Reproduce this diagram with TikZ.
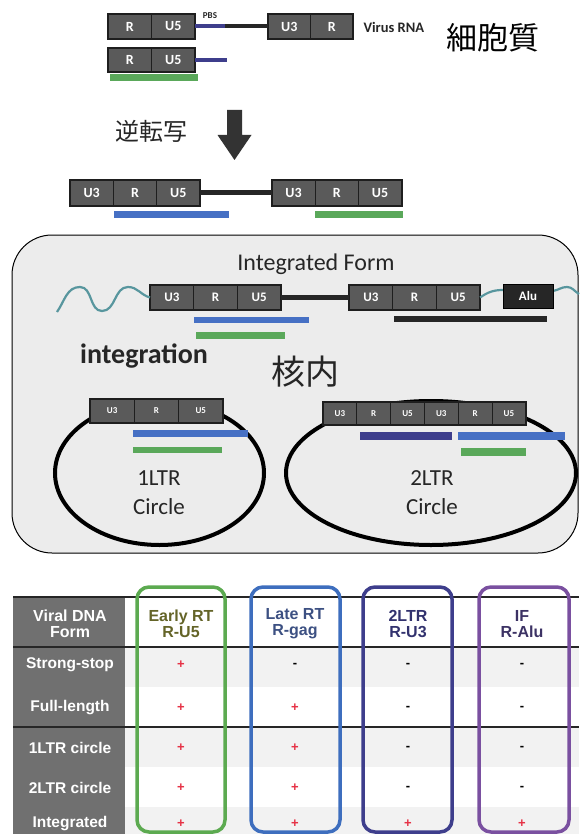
\documentclass[tikz,border=0pt]{standalone}
\usepackage{fontspec}
\setmainfont{Carlito}
\newfontfamily\jp{Noto Sans CJK JP}
\newfontfamily\tabfont{Liberation Sans}
\definecolor{cellgray}{RGB}{90,90,90}
\definecolor{cellline}{RGB}{30,30,30}
\definecolor{gbar}{RGB}{90,168,90}
\definecolor{bbar}{RGB}{70,112,196}
\definecolor{pbar}{RGB}{62,62,140}
\definecolor{kbar}{RGB}{38,38,38}
\definecolor{wavec}{RGB}{88,150,158}
\definecolor{boxfill}{RGB}{236,236,236}
\definecolor{tgreen}{RGB}{92,170,80}
\definecolor{tblue}{RGB}{62,110,190}
\definecolor{tnavy}{RGB}{62,62,140}
\definecolor{tpurple}{RGB}{122,80,160}
\definecolor{hgreen}{RGB}{100,100,40}
\definecolor{hblue}{RGB}{60,80,130}
\definecolor{hnavy}{RGB}{50,50,110}
\definecolor{hpurple}{RGB}{60,50,100}
\definecolor{colgray}{RGB}{112,112,112}
\definecolor{rowgray}{RGB}{242,242,242}
\definecolor{plusred}{RGB}{230,50,70}
\tikzset{
  cellbox/.style={draw=cellline, line width=0.8pt, fill=cellgray, text=white, inner sep=0pt, outer sep=0pt, anchor=north west},
  blockedge/.style={draw=cellline, line width=1.8pt},
  pv/.style={text=plusred, font=\tabfont\bfseries\fontsize{13}{13}\selectfont},
  mv/.style={text=black, font=\tabfont\bfseries\fontsize{13}{13}\selectfont},
  rowlab/.style={text=white, font=\tabfont\bfseries\fontsize{15.5}{15.5}\selectfont},
  headlab/.style={font=\tabfont\bfseries\fontsize{16}{16}\selectfont, align=center},
  colbox/.style={line width=3.5pt, rounded corners=12pt},
}
% name, x, ytop, cell width, height, font size, last index, labels
\newcommand{\mkblock}[8]{%
  \foreach \lab [count=\i from 0] in {#8} {
    \node[cellbox, minimum width=#4pt, minimum height=#5pt,
      font=\bfseries\fontsize{#6}{#6}\selectfont] (#1-\i) at ({#2+\i*#4},#3) {\lab};
  }
  \draw[blockedge] (#1-0.north west) rectangle (#1-#7.south east);
}
\newcommand\tplus[3]{\node[pv] (#1) at (#2,#3) {+};}
\newcommand\tminus[3]{\node[mv] (#1) at (#2,#3) {-};}
\begin{document}
\begin{tikzpicture}[x=1pt,y=-1pt]
\useasboundingbox (0,0) rectangle (579,834);
\fill[white] (0,0) rectangle (579,834);

% ---------- cytoplasm ----------
\coordinate (pbsmid) at (225,26.5);
\coordinate (ssend) at (227,60);
\mkblock{ra}{108}{14}{43.5}{25}{14}{1}{R,U5}
\mkblock{rb}{268}{14}{42.5}{25}{14}{1}{U3,R}
\draw[line width=4pt, kbar] (pbsmid) -- (rb-0.west);
\draw[line width=4pt, pbar] (ra-1.east) -- (pbsmid);
\node[font=\bfseries\fontsize{9}{9}\selectfont, text=black!85] (pbs) at (210,16) {PBS};
\node[anchor=west, font=\bfseries\fontsize{14.5}{14.5}\selectfont, text=black!85] (vrna) at (360,27.5) {Virus RNA};
\node[font=\jp\fontsize{31}{31}\selectfont] (cyto) at (493,38) {細胞質};

\mkblock{ss}{108}{48}{43.5}{24}{14}{1}{R,U5}
\draw[line width=4pt, pbar] (ss-1.east) -- (ssend);
\fill[gbar] (110,74) rectangle (198,81);

% ---------- reverse transcription ----------
\node[font=\jp\fontsize{24}{24}\selectfont, text=black!85] (rt) at (151,131) {逆転写};
\fill[black!80] (227,110) -- (242,110) -- (242,135) -- (251.5,135) -- (234.5,160) -- (217.5,135) -- (227,135) -- cycle;

\mkblock{la}{70}{180}{43.3}{26}{14}{2}{U3,R,U5}
\mkblock{lb}{272}{180}{43.2}{26}{14}{2}{U3,R,U5}
\draw[line width=5pt, kbar] (la-2.east) -- (lb-0.west);
\fill[bbar] (114,211) rectangle (229,218);
\fill[gbar] (315,211) rectangle (403,218);

% ---------- nucleus ----------
\draw[line width=1pt, fill=boxfill, rounded corners=40pt] (12,235) rectangle (578,553);
\node[font=\fontsize{24}{24}\selectfont, text=black!85] (intform) at (316,264) {Integrated Form};

\coordinate (w0) at (57,312);
\coordinate (w2) at (503,290);
\coordinate (w3) at (553,291);
\coordinate (w4) at (579,294);
\mkblock{ia}{150}{285}{43.7}{25}{13}{2}{U3,R,U5}
\mkblock{ib}{349}{285}{43.7}{25}{13}{2}{U3,R,U5}
\draw[line width=2.2pt, wavec] (w0) to[out=55,in=180] (80,287) to[out=0,in=180] (102,311)
   to[out=0,in=180] (128,287) to[out=0,in=165] (ia-0.west);
\draw[line width=2.2pt, wavec] (ib-2.east) to[out=35,in=180] (w2);
\draw[line width=2.2pt, wavec] (w3) to[out=10,in=180] (567,287) to[out=0,in=150] (w4);
\draw[line width=5pt, kbar] (ia-2.east) -- (ib-0.west);
\node[draw=black, line width=1pt, fill=kbar, text=white, font=\bfseries\fontsize{13}{13}\selectfont,
  minimum width=50pt, minimum height=24pt, inner sep=0pt] (alu) at (528,296) {Alu};
\fill[bbar] (194,317) rectangle (309,323);
\fill[gbar] (196,332) rectangle (285,339);
\fill[kbar] (394,316) rectangle (547,322);

\node[font=\bfseries\fontsize{28}{28}\selectfont, text=black!85] (integ) at (144,356) {integration};
\node[font=\jp\fontsize{34}{34}\selectfont, text=black!85] (kaku) at (305,372) {核内};

% 1LTR circle
\draw[line width=4pt, black] (159.5,473) ellipse [x radius=104.5, y radius=72];
\mkblock{ca}{90}{399}{44.3}{24}{9}{2}{U3,R,U5}
\fill[bbar] (133,430) rectangle (248,437);
\fill[gbar] (133,447) rectangle (222,453);
\node[font=\fontsize{23}{23}\selectfont, text=black!85] (c1a) at (159,478) {1LTR};
\node[font=\fontsize{23}{23}\selectfont, text=black!85] (c1b) at (159,507) {Circle};

% 2LTR circle
\draw[line width=4pt, black] (431,473) ellipse [x radius=145, y radius=72];
\mkblock{cb}{323}{402}{33.8}{23}{9}{5}{U3,R,U5,U3,R,U5}
\fill[pbar] (360,432) rectangle (452,440);
\fill[bbar] (458,432) rectangle (565,440);
\fill[gbar] (461,448) rectangle (526,456);
\node[font=\fontsize{23}{23}\selectfont, text=black!85] (c2a) at (432,478) {2LTR};
\node[font=\fontsize{23}{23}\selectfont, text=black!85] (c2b) at (432,507) {Circle};

% ---------- table ----------
\fill[rowgray] (125,647) rectangle (579,687);
\fill[rowgray] (125,727) rectangle (579,767);
\fill[rowgray] (125,807) rectangle (579,834);
\fill[colgray] (13,597) rectangle (125,834);
\draw[line width=2.2pt, black!85] (13,597) -- (579,597);
\draw[line width=1.8pt, black!85] (13,647) -- (579,647);
\draw[line width=1.8pt, black!85] (13,727) -- (579,727);

\draw[colbox, tgreen] (137,587) rectangle (225,832);
\draw[colbox, tblue] (251,587) rectangle (340,832);
\draw[colbox, tnavy] (363,587) rectangle (452,832);
\draw[colbox, tpurple] (479,587) rectangle (569,832);

\node[headlab, text=white] (h0) at (70,624) {Viral DNA\\Form};
\node[headlab, text=hgreen] (h1) at (181,624) {Early RT\\R-U5};
\node[headlab, text=hblue] (h2) at (295,624) {Late RT\\R-gag};
\node[headlab, text=hnavy] (h3) at (408,624) {2LTR\\R-U3};
\node[headlab, text=hpurple] (h4) at (522,624) {IF\\R-Alu};

\node[rowlab] (r1) at (70,665) {Strong-stop};
\node[rowlab] (r2) at (70,708) {Full-length};
\node[rowlab] (r3) at (70,748) {1LTR circle};
\node[rowlab] (r4) at (70,788) {2LTR circle};
\node[rowlab] (r5) at (70,824) {Integrated};

\tplus{v11}{181}{665} \tminus{v12}{295}{665} \tminus{v13}{408}{665} \tminus{v14}{522}{665}
\tplus{v21}{181}{708} \tplus{v22}{295}{708} \tminus{v23}{408}{708} \tminus{v24}{522}{708}
\tplus{v31}{181}{748} \tplus{v32}{295}{748} \tminus{v33}{408}{748} \tminus{v34}{522}{748}
\tplus{v41}{181}{788} \tplus{v42}{295}{788} \tminus{v43}{408}{788} \tminus{v44}{522}{788}
\tplus{v51}{181}{824} \tplus{v52}{295}{824} \tplus{v53}{408}{824} \tplus{v54}{522}{824}
\end{tikzpicture}
\end{document}
